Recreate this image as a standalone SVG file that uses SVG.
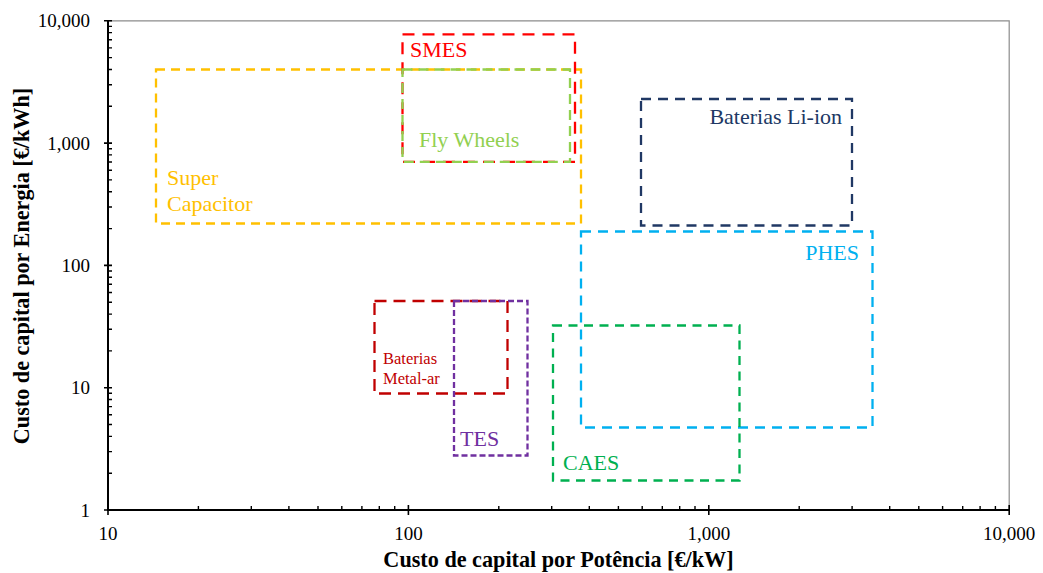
<svg xmlns="http://www.w3.org/2000/svg" width="1043" height="573" viewBox="0 0 1043 573">
<style>
.box{fill:none;stroke-width:2.3}
.lbl{font-family:"Liberation Serif","Times New Roman",serif;font-size:22px}
.tick{font-family:"Liberation Serif","Times New Roman",serif;font-size:19px;fill:#000}
.title{font-family:"Liberation Serif","Times New Roman",serif;font-size:22.2px;font-weight:bold;fill:#000}
</style>
<rect width="1043" height="573" fill="#fff"/>
<g id="frame">
<path d="M108 20.8H1009.2V510" fill="none" stroke="#8c8c8c" stroke-width="1.2"/>
<path d="M108 20.8V510H1009.2" fill="none" stroke="#000" stroke-width="2"/>
<path d="M104 20.8H112M104 143.1H112M104 265.4H112M104 387.7H112M104 510H112" stroke="#000" stroke-width="1.6"/>
<path d="M108 473.2h4M108 451.6h4M108 436.4h4M108 424.5h4M108 414.8h4M108 406.6h4M108 399.5h4M108 393.3h4M108 350.9h4M108 329.3h4M108 314.1h4M108 302.2h4M108 292.5h4M108 284.3h4M108 277.2h4M108 271h4M108 228.6h4M108 207h4M108 191.8h4M108 179.9h4M108 170.2h4M108 162h4M108 154.9h4M108 148.7h4M108 106.3h4M108 84.7h4M108 69.5h4M108 57.6h4M108 47.9h4M108 39.7h4M108 32.6h4M108 26.4h4" stroke="#000" stroke-width="1.4"/>
<path d="M108 505V515M408.4 505V515M708.8 505V515M1009.2 505V515" stroke="#000" stroke-width="1.6"/>
<path d="M198.4 510v-4M251.3 510v-4M288.9 510v-4M318 510v-4M341.8 510v-4M361.9 510v-4M379.3 510v-4M394.7 510v-4M498.8 510v-4M551.7 510v-4M589.3 510v-4M618.4 510v-4M642.2 510v-4M662.3 510v-4M679.7 510v-4M695 510v-4M799.2 510v-4M852.1 510v-4M889.7 510v-4M918.8 510v-4M942.6 510v-4M962.7 510v-4M980.1 510v-4M995.4 510v-4" stroke="#000" stroke-width="1.4"/>
</g>
<g id="axis-labels">
<text class="tick" x="90" y="27.3" text-anchor="end">10,000</text>
<text class="tick" x="90" y="149.6" text-anchor="end">1,000</text>
<text class="tick" x="90" y="271.9" text-anchor="end">100</text>
<text class="tick" x="90" y="394.2" text-anchor="end">10</text>
<text class="tick" x="90" y="516.5" text-anchor="end">1</text>
<text class="tick" x="108" y="540" text-anchor="middle">10</text>
<text class="tick" x="408.4" y="540" text-anchor="middle">100</text>
<text class="tick" x="708.8" y="540" text-anchor="middle">1,000</text>
<text class="tick" x="1009.2" y="540" text-anchor="middle">10,000</text>
<text class="title" x="558.5" y="567" text-anchor="middle">Custo de capital por Potência [€/kW]</text>
<text class="title" transform="translate(29 266) rotate(-90)" text-anchor="middle">Custo de capital por Energia [€/kWh]</text>
</g>
<g id="supercapacitor">
<rect class="box" x="156" y="69.5" width="425" height="154" stroke="#FFC000" stroke-dasharray="9 6"/>
<text class="lbl" x="167" y="185" fill="#FFC000">Super</text>
<text class="lbl" x="167" y="211" fill="#FFC000">Capacitor</text>
</g>
<g id="smes">
<rect class="box" x="402.5" y="34.3" width="172.5" height="127.5" stroke="#FF0000" stroke-dasharray="12 8"/>
<text class="lbl" x="410" y="57" fill="#FF0000">SMES</text>
</g>
<g id="flywheels">
<rect class="box" x="402.5" y="69.5" width="167.5" height="92.3" stroke="#92D050" stroke-dasharray="10 6"/>
<text class="lbl" x="419" y="147" fill="#92D050">Fly Wheels</text>
</g>
<g id="li-ion">
<rect class="box" x="641" y="99" width="211" height="126.5" stroke="#203864" stroke-dasharray="10 7"/>
<text class="lbl" x="842" y="123.5" fill="#203864" text-anchor="end">Baterias Li-ion</text>
</g>
<g id="phes">
<rect class="box" x="581" y="231.5" width="291.5" height="196" stroke="#00B0F0" stroke-dasharray="10 7"/>
<text class="lbl" x="859" y="260" fill="#00B0F0" text-anchor="end">PHES</text>
</g>
<g id="caes">
<rect class="box" x="553" y="325.5" width="186.5" height="155" stroke="#00B050" stroke-dasharray="9 6.5"/>
<text class="lbl" x="563" y="470" fill="#00B050">CAES</text>
</g>
<g id="metal-ar">
<rect class="box" x="374.5" y="301" width="133" height="92.5" stroke="#C00000" stroke-dasharray="12 7"/>
<text class="lbl" x="383" y="363.5" fill="#C00000" style="font-size:16.5px">Baterias</text>
<text class="lbl" x="383" y="384" fill="#C00000" style="font-size:16.5px">Metal-ar</text>
</g>
<g id="tes">
<rect class="box" x="454" y="301" width="73.5" height="154.5" stroke="#7030A0" stroke-dasharray="6 3"/>
<text class="lbl" x="460" y="446" fill="#7030A0">TES</text>
</g>
<g id="connectors"/>
</svg>
